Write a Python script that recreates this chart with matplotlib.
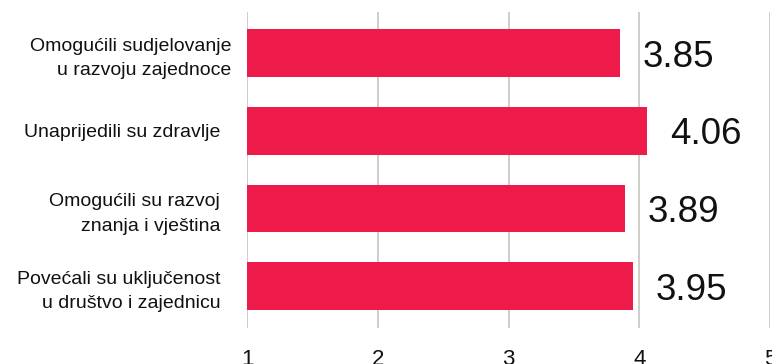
import matplotlib.pyplot as plt
import numpy as np

plt.rcParams["font.family"] = ["Liberation Sans", "DejaVu Sans"]

# Survey outcomes, mean score on a 1-5 scale
categories = [
    "Omogućili sudjelovanje\nu razvoju zajednoce",
    "Unaprijedili su zdravlje  ",
    "Omogućili su razvoj  \nznanja i vještina  ",
    "Povećali su uključenost  \nu društvo i zajednicu  ",
]
scores = [3.85, 4.06, 3.89, 3.95]
scale_ticks = [1, 2, 3, 4, 5]

BAR_COLOR = "#ee1a4a"
GRID_COLOR = "#cdc9c4"

fig = plt.figure(figsize=(7.72, 3.64), dpi=100)
ax = fig.add_axes([0.32, 0.099, 0.6774, 0.868])

ypos = np.arange(len(categories))
vals = np.array(scores)
lo = scale_ticks[0]
ax.barh(ypos, vals - lo, left=lo, height=0.614, color=BAR_COLOR, zorder=2)

for y, v in zip(ypos, vals):
    ax.annotate(f"{v:.2f}", xy=(v, y), xytext=(16.5, 0), textcoords="offset points",
                ha="left", va="center_baseline", fontsize=26.5, color="#111111")

ax.set_xlim(scale_ticks[0], scale_ticks[-1])
ax.set_ylim(3.54, -0.528)
ax.set_xticks(scale_ticks)
ax.set_yticks(ypos, labels=categories)

ax.tick_params(axis="x", length=0, pad=15, labelsize=16, labelcolor="#111111")
ax.tick_params(axis="y", length=0, pad=11.5, labelsize=14, labelcolor="#111111")
for t in ax.get_yticklabels():
    t.set_linespacing(1.56)

ax.grid(axis="x", color=GRID_COLOR, linewidth=1.3)
ax.set_axisbelow(True)
for s in ax.spines.values():
    s.set_visible(False)

fig.savefig("out.png", dpi=100)
